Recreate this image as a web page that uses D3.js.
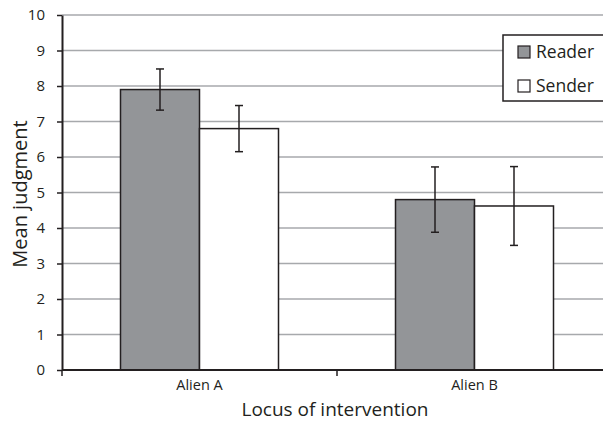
<!DOCTYPE html>
<html>
<head>
<meta charset="utf-8">
<script src="https://cdn.jsdelivr.net/npm/d3@7"></script>
<style>
  body { margin: 0; background: #fff; }
  text { font-family: "Open Sans", "Noto Sans", sans-serif; fill: #231f20; }
</style>
</head>
<body>
<svg id="drawing_region"></svg>
<script>
// chart values
const categories = ["Alien A", "Alien B"];
const series = ["Reader", "Sender"];
const reader_mean = [7.9, 4.8];
const reader_err = [0.58, 0.92];
const sender_mean = [6.8, 4.62];
const sender_err = [0.65, 1.11];
const yticks = [0, 1, 2, 3, 4, 5, 6, 7, 8, 9, 10];

const colors = { Reader: "#939598", Sender: "#ffffff" };

const data = [];
categories.forEach((c, i) => {
    data.push({ cat: c, series: "Reader", value: reader_mean[i], err: reader_err[i] });
    data.push({ cat: c, series: "Sender", value: sender_mean[i], err: sender_err[i] });
});

const config = {
    width: 603,
    height: 422,
    margin: { top: 15, right: -9, bottom: 52, left: 62 }
};

const svg = d3.select("#drawing_region")
    .attr("width", config.width)
    .attr("height", config.height);

const inner_width = config.width - config.margin.left - config.margin.right;
const inner_height = config.height - config.margin.top - config.margin.bottom;

const chart = svg.append("g")
    .attr("transform", `translate(${config.margin.left}, ${config.margin.top})`);

const xscale = d3.scaleBand()
    .domain(categories)
    .range([0, inner_width]);

const xsub = d3.scaleBand()
    .domain(series)
    .range([0, 158])
    .padding(0);

const yscale = d3.scaleLinear()
    .domain([0, 10])
    .range([inner_height, 0]);

// gridlines
chart.append("g")
    .selectAll("line")
    .data(yticks.filter(d => d > 0))
    .join("line")
    .attr("x1", 0)
    .attr("x2", inner_width)
    .attr("y1", d => yscale(d))
    .attr("y2", d => yscale(d))
    .attr("stroke", "#a7a9ac")
    .attr("stroke-width", 1.5);

// bars
const groupOffset = (xscale.bandwidth() - 158) / 2;
chart.append("g")
    .selectAll("rect")
    .data(data)
    .join("rect")
    .attr("x", d => xscale(d.cat) + groupOffset + xsub(d.series))
    .attr("y", d => yscale(d.value))
    .attr("width", xsub.bandwidth())
    .attr("height", d => inner_height - yscale(d.value))
    .attr("fill", d => colors[d.series])
    .attr("stroke", "#231f20")
    .attr("stroke-width", 1.5);

// error bars
const eb = chart.append("g")
    .attr("stroke", "#231f20")
    .attr("stroke-width", 1.5);
const cx = d => xscale(d.cat) + groupOffset + xsub(d.series) + xsub.bandwidth() / 2;
eb.selectAll(".stem")
    .data(data)
    .join("line")
    .attr("x1", cx).attr("x2", cx)
    .attr("y1", d => yscale(d.value + d.err))
    .attr("y2", d => yscale(d.value - d.err));
eb.selectAll(".captop")
    .data(data)
    .join("line")
    .attr("x1", d => cx(d) - 4).attr("x2", d => cx(d) + 4)
    .attr("y1", d => yscale(d.value + d.err))
    .attr("y2", d => yscale(d.value + d.err));
eb.selectAll(".capbot")
    .data(data)
    .join("line")
    .attr("x1", d => cx(d) - 4).attr("x2", d => cx(d) + 4)
    .attr("y1", d => yscale(d.value - d.err))
    .attr("y2", d => yscale(d.value - d.err));

// axes
const yaxis = d3.axisLeft(yscale)
    .tickValues(yticks)
    .tickSize(5)
    .tickPadding(12)
    .tickSizeOuter(0);
const yg = chart.append("g").call(yaxis);
yg.selectAll("text").style("font-size", "15px");

const xaxis_group = chart.append("g")
    .attr("transform", `translate(0, ${inner_height})`);
xaxis_group.append("line")
    .attr("x1", 0).attr("x2", inner_width)
    .attr("stroke", "#231f20").attr("stroke-width", 2);
xaxis_group.selectAll(".tick")
    .data([0, xscale.step(), inner_width])
    .join("line")
    .attr("x1", d => d).attr("x2", d => d)
    .attr("y1", 0).attr("y2", 6)
    .attr("stroke", "#231f20").attr("stroke-width", 1.5);
xaxis_group.selectAll(".lab")
    .data(categories)
    .join("text")
    .attr("x", d => xscale(d) + xscale.bandwidth() / 2)
    .attr("y", 20)
    .attr("text-anchor", "middle")
    .style("font-size", "14.5px")
    .text(d => d);

yg.select(".domain").attr("stroke", "#231f20").attr("stroke-width", 2);
yg.selectAll(".tick line").attr("stroke", "#231f20").attr("stroke-width", 1.5);
yg.selectAll(".tick text").attr("fill", "#231f20");

// axis titles
svg.append("text")
    .attr("x", config.margin.left + inner_width / 2 - 2)
    .attr("y", 416)
    .attr("text-anchor", "middle")
    .style("font-size", "19px")
    .text("Locus of intervention");

svg.append("text")
    .attr("transform", "translate(27, 194) rotate(-90)")
    .attr("text-anchor", "middle")
    .style("font-size", "20px")
    .text("Mean judgment");

// legend
const legend = svg.append("g").attr("transform", "translate(503, 35)");
legend.append("rect")
    .attr("x", 0).attr("y", 0)
    .attr("width", 110).attr("height", 66)
    .attr("fill", "#fff")
    .attr("stroke", "#231f20")
    .attr("stroke-width", 1.5);
series.forEach((s, i) => {
    legend.append("rect")
        .attr("x", 15).attr("y", 11 + i * 34)
        .attr("width", 12).attr("height", 12)
        .attr("fill", colors[s])
        .attr("stroke", "#231f20")
        .attr("stroke-width", 1.2);
    legend.append("text")
        .attr("x", 33).attr("y", 23 + i * 34)
        .style("font-size", "17.5px")
        .text(s);
});
</script>
</body>
</html>
